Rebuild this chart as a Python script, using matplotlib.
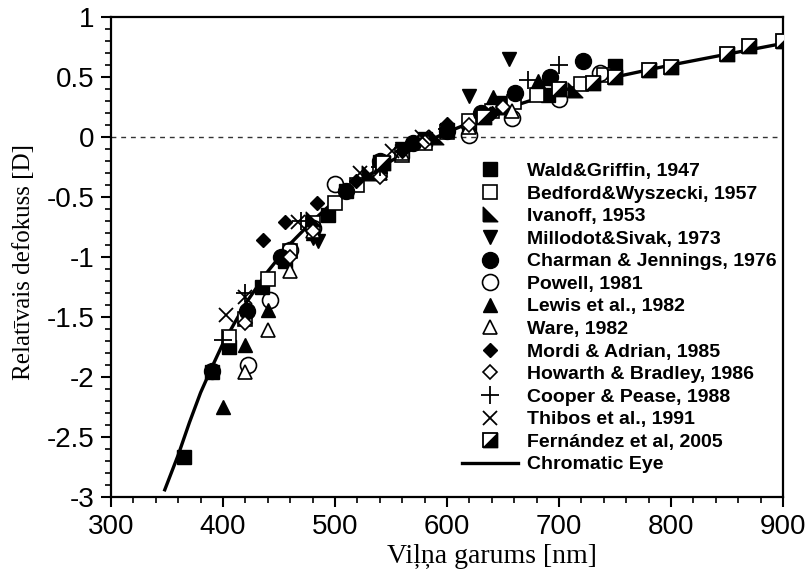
import matplotlib
matplotlib.use("Agg")
import matplotlib.pyplot as plt
from matplotlib.ticker import MultipleLocator, FuncFormatter
from matplotlib.legend_handler import HandlerTuple

plt.rcParams['axes.unicode_minus'] = False

# ---------------- data ----------------
wald_x = [365, 390, 405, 435, 455, 494, 510, 540, 560, 580, 600, 620, 650, 690, 750]
wald_y = [-2.67, -1.96, -1.75, -1.25, -1.03, -0.65, -0.45, -0.21, -0.12, -0.02, 0.06, 0.12, 0.28, 0.35, 0.59]

bedford_x = [405, 420, 440, 460, 480, 500, 520, 540, 560, 580, 600, 620, 640, 660, 680, 720, 740]
bedford_y = [-1.67, -1.52, -1.18, -0.95, -0.72, -0.55, -0.40, -0.27, -0.15, -0.05, 0.04, 0.13, 0.22, 0.29, 0.35, 0.44, 0.52]

ivanoff_x = [480, 530, 590, 650, 714]
ivanoff_y = [-0.68, -0.30, 0.0, 0.25, 0.39]

millodot_x = [480, 485, 540, 560, 620, 655]
millodot_y = [-0.84, -0.87, -0.27, -0.10, 0.34, 0.65]

charman_x = [390, 421, 452, 510, 540, 570, 600, 630, 661, 692, 721]
charman_y = [-1.95, -1.45, -1.00, -0.45, -0.20, -0.05, 0.05, 0.20, 0.37, 0.50, 0.63]

powell_x = [422, 442, 460, 480, 500, 620, 658, 700, 737]
powell_y = [-1.90, -1.36, -0.94, -0.76, -0.39, 0.02, 0.16, 0.32, 0.53]

lewis_x = [400, 420, 440, 480, 540, 600, 641, 681, 689]
lewis_y = [-2.25, -1.73, -1.44, -0.80, -0.24, 0.06, 0.33, 0.47, 0.49]

ware_x = [420, 440, 460, 480, 540, 560, 620, 658]
ware_y = [-1.96, -1.61, -1.12, -0.78, -0.30, -0.13, 0.08, 0.22]

mordi_x = [436, 455, 484, 519, 560, 600, 640]
mordi_y = [-0.86, -0.71, -0.55, -0.37, -0.12, 0.11, 0.20]

howarth_x = [420, 460, 480, 540, 580, 620, 650]
howarth_y = [-1.55, -1.00, -0.78, -0.33, -0.04, 0.10, 0.25]

cooper_x = [400, 420, 470, 540, 600, 672, 700]
cooper_y = [-1.69, -1.30, -0.70, -0.25, 0.07, 0.475, 0.60]

thibos_x = [403, 420, 467, 522, 551, 578, 600, 633]
thibos_y = [-1.48, -1.33, -0.71, -0.30, -0.12, 0.00, 0.05, 0.19]

fernandez_x = [543, 633, 700, 730, 750, 780, 800, 850, 870, 900]
fernandez_y = [-0.22, 0.17, 0.40, 0.45, 0.50, 0.56, 0.58, 0.69, 0.76, 0.80]

eye_x = [348, 360, 370, 380, 390, 400, 420, 440, 460, 480, 500, 525, 550, 575, 600,
         650, 700, 750, 800, 850, 900]
eye_y = [-2.94, -2.65, -2.38, -2.13, -1.92, -1.72, -1.39, -1.12, -0.89, -0.70, -0.53,
         -0.35, -0.20, -0.07, 0.04, 0.23, 0.38, 0.50, 0.60, 0.69, 0.78]

labels = ["Wald&Griffin, 1947", "Bedford&Wyszecki, 1957", "Ivanoff, 1953",
          "Millodot&Sivak, 1973", "Charman & Jennings, 1976", "Powell, 1981",
          "Lewis et al., 1982", "Ware, 1982", "Mordi & Adrian, 1985",
          "Howarth & Bradley, 1986", "Cooper & Pease, 1988", "Thibos et al., 1991",
          "Fernández et al, 2005", "Chromatic Eye"]

xticks = [300, 400, 500, 600, 700, 800, 900]
yticks = [-3, -2.5, -2, -1.5, -1, -0.5, 0, 0.5, 1]

# ---------------- figure ----------------
fig = plt.figure(figsize=(8.08, 5.73), dpi=100)
ax = fig.add_axes([111/808, 76/573, 672/808, 480/573])

ax.axhline(0, color='#333333', lw=1.0, ls=(0, (3.5, 3.5)), zorder=1)

MS = 10.5
tri_lower_left = [(-1, -1), (1, -1), (-1, 1), (-1, -1)]
tri_lower_right = [(-1, -1), (1, -1), (1, 1), (-1, -1)]

curve, = ax.plot(eye_x, eye_y, color='black', lw=2.4, zorder=2)

h = []
h.append(ax.plot(wald_x, wald_y, ls='none', marker='s', ms=MS, mfc='black', mec='black', zorder=3)[0])
h.append(ax.plot(bedford_x, bedford_y, ls='none', marker='s', ms=MS, mfc='white', mec='black', mew=1.2, zorder=3)[0])
h.append(ax.plot(ivanoff_x, ivanoff_y, ls='none', marker=tri_lower_left, ms=MS, mfc='black', mec='black', zorder=3)[0])
h.append(ax.plot(millodot_x, millodot_y, ls='none', marker='v', ms=MS, mfc='black', mec='black', zorder=3)[0])
h.append(ax.plot(charman_x, charman_y, ls='none', marker='o', ms=MS + 1, mfc='black', mec='black', zorder=3)[0])
h.append(ax.plot(powell_x, powell_y, ls='none', marker='o', ms=MS + 1, mfc='none', mec='black', mew=1.2, zorder=3)[0])
h.append(ax.plot(lewis_x, lewis_y, ls='none', marker='^', ms=MS, mfc='black', mec='black', zorder=3)[0])
h.append(ax.plot(ware_x, ware_y, ls='none', marker='^', ms=MS, mfc='white', mec='black', mew=1.2, zorder=3)[0])
h.append(ax.plot(mordi_x, mordi_y, ls='none', marker='D', ms=7.5, mfc='black', mec='black', zorder=3)[0])
h.append(ax.plot(howarth_x, howarth_y, ls='none', marker='D', ms=7.5, mfc='white', mec='black', mew=1.2, zorder=3)[0])
h.append(ax.plot(cooper_x, cooper_y, ls='none', marker='+', ms=MS + 2, mec='black', mew=1.3, zorder=3)[0])
h.append(ax.plot(thibos_x, thibos_y, ls='none', marker='x', ms=MS, mec='black', mew=1.3, zorder=3)[0])
f_sq, = ax.plot(fernandez_x, fernandez_y, ls='none', marker='s', ms=MS, mfc='white', mec='black', mew=1.3, zorder=4)
f_tri, = ax.plot(fernandez_x, fernandez_y, ls='none', marker=tri_lower_right, ms=MS, mfc='black', mec='black', mew=0.8, zorder=4)
h.append((f_sq, f_tri))
h.append(curve)

ax.set_xlim(300, 900)
ax.set_ylim(-3, 1)
ax.set_xticks(xticks)
ax.set_yticks(yticks)
ax.xaxis.set_minor_locator(MultipleLocator(20))
ax.yaxis.set_minor_locator(MultipleLocator(0.1))
ax.yaxis.set_major_formatter(FuncFormatter(lambda v, p: ('%g' % v)))

for lab in ax.get_xticklabels() + ax.get_yticklabels():
    lab.set_fontfamily('Liberation Sans')
    lab.set_fontsize(20)

ax.tick_params(which='major', direction='out', length=7, width=1.5, pad=5,
               top=False, right=False)
ax.tick_params(which='minor', direction='out', length=4, width=1.2,
               top=False, right=False)
for s in ax.spines.values():
    s.set_linewidth(1.6)

ax.set_xlabel("Viļņa garums [nm]", family='Liberation Serif', size=20)
ax.xaxis.set_label_coords(0.567, -0.098)
ax.xaxis.label.set_va('top')
ax.set_ylabel("Relatīvais defokuss [D]", family='Liberation Serif', size=18)
ax.yaxis.set_label_coords(-0.13, 0.49)
ax.yaxis.label.set_va('center')

leg = ax.legend(h, labels, loc='upper left', bbox_to_anchor=(0.522, 0.697),
                frameon=False, borderpad=0, borderaxespad=0,
                handlelength=2.9, handletextpad=0.45, labelspacing=0.255,
                prop={'family': 'Liberation Sans', 'weight': 'bold', 'size': 14},
                handler_map={tuple: HandlerTuple(ndivide=1, pad=0)})

fig.savefig("out.png", dpi=100)
